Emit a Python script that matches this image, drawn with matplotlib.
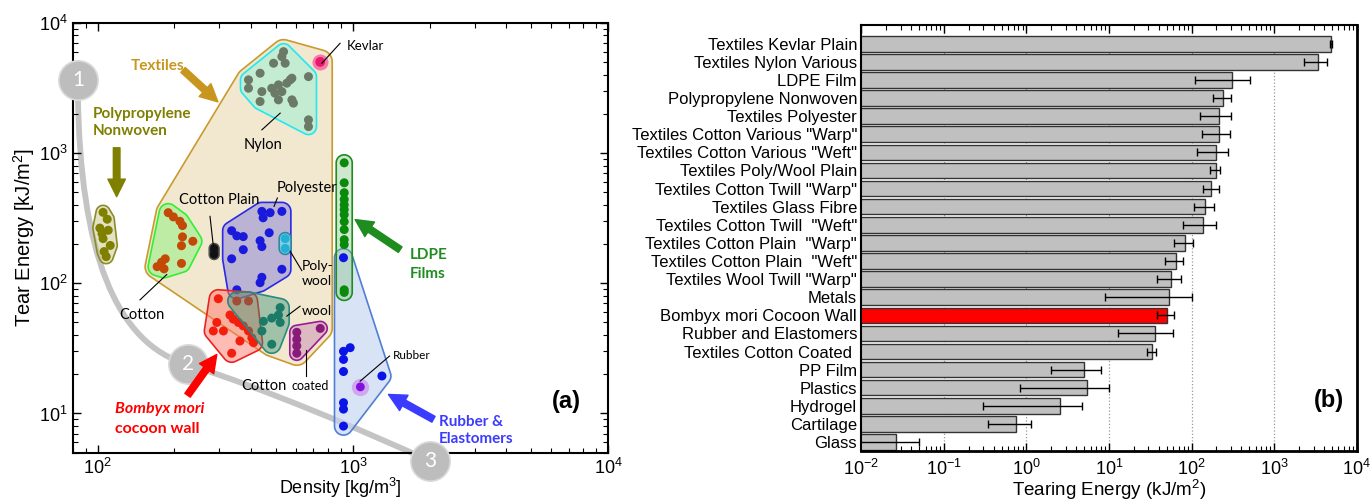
"""Tear energy vs density map (a) and tearing energy ranking (b)."""

import matplotlib.pyplot as plt
import numpy as np
from matplotlib.colors import to_rgba
from matplotlib.patches import PathPatch, Polygon
from matplotlib.path import Path

plt.rcParams['font.family'] = ['Liberation Sans', 'DejaVu Sans']
plt.rcParams['mathtext.fontset'] = 'custom'
plt.rcParams['mathtext.rm'] = 'Liberation Sans'
plt.rcParams['mathtext.it'] = 'Liberation Sans:italic'

# ---- panel (a): density [kg/m3] vs tear energy [kJ/m2]
pp_rho = [105, 109, 102, 110, 105, 112, 106, 108, 104]
pp_tear = [350, 310, 265, 255, 220, 195, 175, 160, 240]

cotton_rho = [189, 198, 210, 215, 215, 236, 213, 184, 178, 171, 182, 213]
cotton_tear = [348, 323, 299, 277, 227, 210, 194, 154, 145, 134, 129, 142]

cplain_rho = [286, 286]
cplain_tear = [185, 166]

polyester_rho = [440, 474, 527, 445, 335, 351, 372, 470, 433, 440, 372, 335, 527, 440, 433, 351]
polyester_tear = [356, 348, 356, 318, 253, 231, 228, 244, 212, 191, 181, 154, 128, 111, 101, 89]

polywool_rho = [543, 543]
polywool_tear = [220, 185]

wool_rho = [519, 511, 481, 446, 519, 440, 481]
wool_tear = [65, 57, 54, 51, 50, 43, 34]

bombyx_rho = [297, 351, 390, 330, 340, 356, 372, 390, 402, 293, 311, 284, 361, 335, 408]
bombyx_tear = [76, 73, 73, 57, 53, 50, 47, 43, 38, 50, 43, 43, 36, 29, 35]

ccoated_rho = [603, 603, 603, 603, 745]
ccoated_tear = [42, 37, 33, 29, 45]

nylon_rho = [535, 527, 489, 543, 433, 390, 390, 670, 577, 551, 511, 481, 440, 495,
             527, 577, 433, 511, 585, 670, 670, 568]
nylon_tear = [5995, 5490, 4885, 4885, 4095, 3640, 3140, 3855, 3750, 3432, 3333, 3140,
              2960, 2875, 2960, 2557, 2483, 2557, 2413, 1796, 1594, 3640]

kevlar_rho = [745]
kevlar_tear = [5000]

ldpe_rho = [925] * 13
ldpe_tear = [840, 590, 495, 440, 400, 368, 336, 297, 258, 216, 198, 89, 85]

rubber_rho = [919, 976, 919, 919, 919, 1300, 919, 919, 919]
rubber_tear = [157, 32, 30, 26, 21, 19.4, 12.1, 10.8, 8.0]

rubber_hl_rho = [1070]
rubber_hl_tear = [16]

# guide curve 1 -> 2 -> 3 (bezier anchors / controls)
guide_rho = [83.7, 85.2, 116.9, 226, 457, 1068, 2010]
guide_tear = [2793, 181, 33.9, 23.8, 15.3, 7.57, 4.3]
marker_rho = [83.7, 226, 2010]
marker_tear = [3640, 23.8, 4.3]
marker_text = ['1', '2', '3']

# ---- panel (b): tearing energy [kJ/m2]
bar_labels = ['Textiles Kevlar Plain', 'Textiles Nylon Various', 'LDPE Film',
              'Polypropylene Nonwoven', 'Textiles Polyester',
              'Textiles Cotton Various "Warp"', 'Textiles Cotton Various "Weft"',
              'Textiles Poly/Wool Plain', 'Textiles Cotton Twill "Warp"',
              'Textiles Glass Fibre', 'Textiles Cotton Twill  "Weft"',
              'Textiles Cotton Plain  "Warp"', 'Textiles Cotton Plain  "Weft"',
              'Textiles Wool Twill "Warp"', 'Metals', 'Bombyx mori Cocoon Wall',
              'Rubber and Elastomers', 'Textiles Cotton Coated ', 'PP Film', 'Plastics',
              'Hydrogel', 'Cartilage', 'Glass']
bar_values = [4850, 3350, 310, 241, 214, 214, 195, 195, 173, 146, 138, 83, 64, 56, 54,
              50, 36, 33.4, 5.0, 5.36, 2.52, 0.746, 0.0266]
bar_low = [4750, 2290, 110, 180, 127, 134, 117, 166, 137, 107, 79, 62, 48, 38, 9.0,
           38, 13, 29, 2.0, 0.84, 0.30, 0.342, 0.005]
bar_high = [4950, 4370, 508, 301, 297, 291, 277, 222, 212, 188, 199, 103, 79, 74, 100,
            61, 59, 37, 8.05, 9.9, 4.74, 1.14, 0.0495]

ANNOT_FONT = ['Lato', 'DejaVu Sans']


def convex_hull(points):
    pts = sorted(map(tuple, points))

    def cross(o, a, b):
        return (a[0] - o[0]) * (b[1] - o[1]) - (a[1] - o[1]) * (b[0] - o[0])

    lower, upper = [], []
    for q in pts:
        while len(lower) >= 2 and cross(lower[-2], lower[-1], q) <= 0:
            lower.pop()
        lower.append(q)
    for q in reversed(pts):
        while len(upper) >= 2 and cross(upper[-2], upper[-1], q) <= 0:
            upper.pop()
        upper.append(q)
    return np.array(lower[:-1] + upper[:-1])


def draw_hull(ax, xs, ys, pad, face, edge, alpha, lw=1.2, z=2):
    """Rounded convex outline around points, padded by `pad` display pixels."""
    pts = ax.transData.transform(np.column_stack([xs, ys]))
    ang = np.linspace(0, 2 * np.pi, 48, endpoint=False)
    ring = pad * np.column_stack([np.cos(ang), np.sin(ang)])
    cloud = (pts[:, None, :] + ring[None, :, :]).reshape(-1, 2)
    outline = ax.transData.inverted().transform(convex_hull(cloud))
    ax.add_patch(Polygon(outline, closed=True, facecolor=to_rgba(face, alpha),
                         edgecolor=edge, lw=lw, zorder=z))


def dots(ax, xs, ys, color, s=42, z=3):
    ax.scatter(xs, ys, s=s, color=color, edgecolors='none', zorder=z)


def pointer(ax, start, end):
    ax.plot([start[0], end[0]], [start[1], end[1]], color='k', lw=0.8, zorder=6)


def big_arrow(ax, tail, head, color):
    ax.annotate('', xy=head, xytext=tail, zorder=9,
                arrowprops=dict(arrowstyle='simple,head_length=0.9,head_width=0.9,tail_width=0.34',
                                color=color, mutation_scale=14, shrinkA=0, shrinkB=0))


fig = plt.figure(figsize=(13.71, 5.0), dpi=100)
ax_a = fig.add_axes([0.0532, 0.0946, 0.3903, 0.86])
ax_b = fig.add_axes([0.6282, 0.0986, 0.3614, 0.8508])

# ------------------------------------------------------------------ panel (a)
ax_a.set_xscale('log')
ax_a.set_yscale('log')
ax_a.set_xlim(80, 1e4)
ax_a.set_ylim(5, 1e4)

textile_rho = cotton_rho + cplain_rho + polyester_rho + polywool_rho + wool_rho + ccoated_rho + nylon_rho + kevlar_rho
textile_tear = cotton_tear + cplain_tear + polyester_tear + polywool_tear + wool_tear + ccoated_tear + nylon_tear + kevlar_tear
draw_hull(ax_a, textile_rho, textile_tear, 12, '#f2e8cf', '#c99a2e', 1.0, z=1)
draw_hull(ax_a, rubber_rho + rubber_hl_rho, rubber_tear + rubber_hl_tear, 9,
          '#c6d4f2', '#4f7fd2', 0.65, z=1.5)

verts = ax_a.transData.transform(np.column_stack([guide_rho, guide_tear]))
guide = Path(ax_a.transData.inverted().transform(verts),
             [Path.MOVETO] + [Path.CURVE4] * 6)
ax_a.add_patch(PathPatch(guide, facecolor='none', edgecolor='#c4c4c4', lw=4.2,
                         zorder=1.2, clip_on=False, capstyle='round'))

draw_hull(ax_a, pp_rho, pp_tear, 7, '#c9c78a', '#8c8c28', 0.5)
dots(ax_a, pp_rho, pp_tear, '#7f7f00')

draw_hull(ax_a, cotton_rho, cotton_tear, 9, '#9cf08a', '#33ee33', 0.6)
dots(ax_a, cotton_rho, cotton_tear, '#c24a06')

draw_hull(ax_a, cplain_rho, cplain_tear, 5, '#222222', '#555555', 1.0, lw=1.0)
dots(ax_a, cplain_rho, cplain_tear, '#111111', s=30)

draw_hull(ax_a, polyester_rho, polyester_tear, 9, '#8f88d8', '#2a2ae6', 0.55)
dots(ax_a, polyester_rho, polyester_tear, '#1a1adc')

draw_hull(ax_a, polywool_rho, polywool_tear, 6, '#7fd0e8', '#2a8aa0', 0.8, z=3.1)
dots(ax_a, polywool_rho, polywool_tear, '#22b0d6', z=3.2)

draw_hull(ax_a, bombyx_rho, bombyx_tear, 9, '#ff7a6a', '#ee2222', 0.5, z=3.3)
dots(ax_a, bombyx_rho, bombyx_tear, '#f41e0e', z=3.4)

draw_hull(ax_a, wool_rho + bombyx_rho[1:3], wool_tear + bombyx_tear[1:3], 9,
          '#2f8f74', '#2a8a80', 0.42, z=3.5)
dots(ax_a, wool_rho, wool_tear, '#1c7a68', z=3.6)

draw_hull(ax_a, ccoated_rho, ccoated_tear, 7, '#c484b0', '#9a1a9a', 0.45, z=3.5)
dots(ax_a, ccoated_rho, ccoated_tear, '#8a1a7a', z=3.6)

draw_hull(ax_a, nylon_rho, nylon_tear, 8, '#9ff0d8', '#22e8f0', 0.55)
dots(ax_a, nylon_rho, nylon_tear, '#6a7a66')

ax_a.scatter(kevlar_rho, kevlar_tear, s=110, color='#f47aa8', zorder=3)
dots(ax_a, kevlar_rho, kevlar_tear, '#e8186a', s=50, z=3.1)

draw_hull(ax_a, ldpe_rho, ldpe_tear, 8, '#86c486', '#1e8c1e', 0.4, z=2.5)
dots(ax_a, ldpe_rho, ldpe_tear, '#0a8a0a')
dots(ax_a, rubber_rho, rubber_tear, '#0a14e6')
ax_a.scatter(rubber_hl_rho, rubber_hl_tear, s=130, color='#cfa8ee', zorder=3)
dots(ax_a, rubber_hl_rho, rubber_hl_tear, '#8010e0', s=40, z=3.1)

for rho, tear, txt in zip(marker_rho, marker_tear, marker_text):
    ax_a.scatter([rho], [tear], s=800, color='#bdbdbd', edgecolors='#dadada', lw=1.2,
                 zorder=7, clip_on=False)
    ax_a.text(rho, tear, txt, color='white', fontsize=15, ha='center', va='center',
              zorder=8, family=ANNOT_FONT)

# category labels and arrows
ax_a.text(171, 4660, 'Textiles', color='#c8961e', fontsize=11, fontweight='bold',
          ha='center', va='center', family=ANNOT_FONT)
big_arrow(ax_a, (216, 4340), (296, 2467), '#c8961e')
ax_a.text(95.8, 1704, 'Polypropylene\nNonwoven', color='#7f7f00', fontsize=11,
          fontweight='bold', ha='left', va='center', linespacing=1.25, family=ANNOT_FONT)
big_arrow(ax_a, (118.7, 1096), (118.7, 462), '#7f7f00')
ax_a.text(1677, 139, 'LDPE\nFilms', color='#1e8c1e', fontsize=11, fontweight='bold',
          ha='left', va='center', linespacing=1.4, family=ANNOT_FONT)
big_arrow(ax_a, (1533, 181), (1021, 308), '#1e8c1e')
ax_a.text(2166, 7.43, 'Rubber &\nElastomers', color='#3b3bff', fontsize=11,
          fontweight='bold', ha='left', va='center', linespacing=1.3, family=ANNOT_FONT)
big_arrow(ax_a, (2070, 9.03), (1379, 14.0), '#3b3bff')
ax_a.text(116.9, 10.9, 'Bombyx mori', color='#ff0000', fontsize=11.5, fontstyle='italic',
          fontweight='bold', ha='left', va='center', family=ANNOT_FONT)
ax_a.text(116.9, 7.57, 'cocoon wall', color='#ff0000', fontsize=11.5, fontweight='bold',
          ha='left', va='center', family=ANNOT_FONT)
big_arrow(ax_a, (225, 13.8), (293, 28.4), '#ff0000')

# group labels with leader lines
ax_a.text(947, 6668, 'Kevlar', fontsize=9.5, ha='left', va='center', family=ANNOT_FONT)
pointer(ax_a, (891, 6950), (756, 4885))
ax_a.text(446, 1156, 'Nylon', fontsize=10.5, ha='center', va='center', family=ANNOT_FONT)
pointer(ax_a, (440, 1505), (519, 2022))
ax_a.text(299, 439, 'Cotton Plain', fontsize=10.5, ha='center', va='center', family=ANNOT_FONT)
pointer(ax_a, (275.6, 326), (284, 192))
ax_a.text(662, 541, 'Polyester', fontsize=10.5, ha='center', va='center', family=ANNOT_FONT)
pointer(ax_a, (506, 451), (491, 389))
ax_a.text(631, 119, 'Poly-\nwool', fontsize=10, ha='left', va='center', linespacing=1.3,
          family=ANNOT_FONT)
pointer(ax_a, (568, 176), (631, 125))
ax_a.text(631, 61, 'wool', fontsize=10, ha='left', va='center', family=ANNOT_FONT)
pointer(ax_a, (621, 66.6), (551, 55.9))
ax_a.text(148.8, 57.5, 'Cotton', fontsize=10.5, ha='center', va='center', family=ANNOT_FONT)
pointer(ax_a, (146.5, 74.5), (186.5, 116.6))
ax_a.text(449, 16.3, 'Cotton', fontsize=10.5, ha='center', va='center', family=ANNOT_FONT)
ax_a.text(576, 16.3, 'coated', fontsize=9, ha='left', va='center', family=ANNOT_FONT)
pointer(ax_a, (656, 30.8), (656, 19.4))
ax_a.text(1435, 27.9, 'Rubber', fontsize=8.5, ha='left', va='center', family=ANNOT_FONT)
pointer(ax_a, (1392, 27.6), (1068, 17.7))

ax_a.text(0.923, 0.118, '(a)', transform=ax_a.transAxes, fontsize=17, fontweight='bold',
          ha='center', va='center')

ax_a.tick_params(which='both', direction='in', top=True, right=True, labelsize=13)
ax_a.tick_params(which='major', length=6, width=1.0)
ax_a.tick_params(which='minor', length=3.5, width=0.8)
for sp in ax_a.spines.values():
    sp.set_linewidth(1.5)
ax_a.set_xlabel('Density [kg/m$^3$]', fontsize=13, labelpad=-1)
ax_a.set_ylabel('Tear Energy [kJ/m$^2$]', fontsize=14.5, labelpad=2)

# ------------------------------------------------------------------ panel (b)
ax_b.set_xscale('log')
ypos = np.arange(len(bar_labels))
vals = np.array(bar_values)
xerr = [vals - np.array(bar_low), np.array(bar_high) - vals]
bar_colors = ['#ff0000' if 'Bombyx' in lab else '#c0c0c0' for lab in bar_labels]
ax_b.barh(ypos, vals, height=0.86, color=bar_colors, edgecolor='#333333', lw=1.0,
          xerr=xerr, error_kw=dict(ecolor='k', elinewidth=1.0, capsize=2.8, capthick=1.0),
          zorder=2)
ax_b.set_xlim(1e-2, 1e4)
ax_b.set_ylim(22.48, -1.02)
ax_b.set_yticks(ypos)
ax_b.set_yticklabels(bar_labels, fontsize=12)
ax_b.set_xticks([1e-2, 1e-1, 1e0, 1e1, 1e2, 1e3, 1e4])
ax_b.xaxis.grid(True, which='major', linestyle=':', color='#999999', lw=0.9)
ax_b.set_axisbelow(True)
ax_b.tick_params(axis='y', length=0, pad=3)
ax_b.tick_params(axis='x', which='both', direction='in', top=True, labelsize=13, pad=6)
ax_b.tick_params(axis='x', which='major', length=6, width=1.0)
ax_b.tick_params(axis='x', which='minor', length=3.5, width=0.8)
for name, sp in ax_b.spines.items():
    sp.set_linewidth(2.0 if name in ('right', 'bottom') else 1.5)
ax_b.set_xlabel('Tearing Energy (kJ/m$^2$)', fontsize=13.5, labelpad=-1)
ax_b.text(0.944, 0.119, '(b)', transform=ax_b.transAxes, fontsize=17, fontweight='bold',
          ha='center', va='center')

fig.savefig('out.png', dpi=100)
